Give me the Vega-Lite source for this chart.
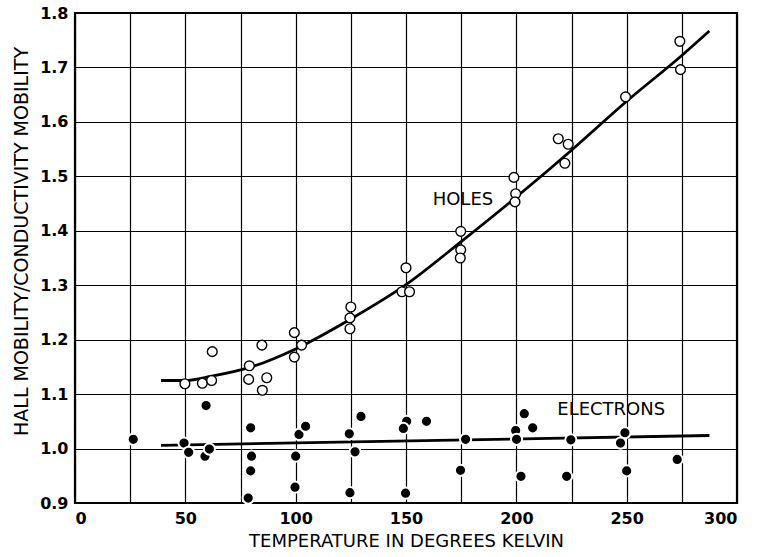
{
  "$schema": "https://vega.github.io/schema/vega-lite/v6.json",
  "autosize": {"type": "none"},
  "width": 662,
  "height": 490,
  "padding": {"left": 75, "top": 13, "right": 20, "bottom": 54},
  "background": "white",
  "config": {
    "view": {"stroke": "black", "strokeWidth": 2.2},
    "font": "DejaVu Sans",
    "axis": {
      "domain": false,
      "ticks": false,
      "grid": true,
      "gridColor": "black",
      "gridOpacity": 1,
      "gridWidth": 1.2,
      "labelColor": "black",
      "labelFont": "DejaVu Sans",
      "labelFontSize": 16,
      "labelFontWeight": "bold",
      "titleColor": "black",
      "titleFont": "DejaVu Sans",
      "titleFontSize": 18,
      "titleFontWeight": "normal"
    }
  },
  "datasets": {
    "holes": [
      {"T": 49.8, "ratio": 1.119}, {"T": 57.7, "ratio": 1.12}, {"T": 61.9, "ratio": 1.125},
      {"T": 62.2, "ratio": 1.178}, {"T": 79.0, "ratio": 1.152}, {"T": 78.7, "ratio": 1.127},
      {"T": 84.7, "ratio": 1.19}, {"T": 86.9, "ratio": 1.13}, {"T": 84.9, "ratio": 1.107},
      {"T": 99.4, "ratio": 1.213}, {"T": 99.4, "ratio": 1.168}, {"T": 102.7, "ratio": 1.19},
      {"T": 125.0, "ratio": 1.26}, {"T": 124.6, "ratio": 1.24}, {"T": 124.6, "ratio": 1.22},
      {"T": 150.0, "ratio": 1.332}, {"T": 148.2, "ratio": 1.288}, {"T": 151.6, "ratio": 1.288},
      {"T": 174.8, "ratio": 1.399}, {"T": 174.8, "ratio": 1.365}, {"T": 174.6, "ratio": 1.35},
      {"T": 198.9, "ratio": 1.498}, {"T": 199.7, "ratio": 1.468}, {"T": 199.4, "ratio": 1.453},
      {"T": 219.0, "ratio": 1.569}, {"T": 223.5, "ratio": 1.559}, {"T": 222.0, "ratio": 1.524},
      {"T": 249.5, "ratio": 1.646}, {"T": 274.1, "ratio": 1.748}, {"T": 274.4, "ratio": 1.696}
    ],
    "electrons": [
      {"T": 26.4, "ratio": 1.017}, {"T": 49.4, "ratio": 1.01}, {"T": 51.5, "ratio": 0.993},
      {"T": 59.4, "ratio": 1.079}, {"T": 58.9, "ratio": 0.986}, {"T": 60.9, "ratio": 0.999},
      {"T": 79.6, "ratio": 1.038}, {"T": 80.0, "ratio": 0.986}, {"T": 79.6, "ratio": 0.959},
      {"T": 78.5, "ratio": 0.909}, {"T": 100.0, "ratio": 0.986}, {"T": 99.7, "ratio": 0.929},
      {"T": 101.5, "ratio": 1.026}, {"T": 104.5, "ratio": 1.041}, {"T": 124.3, "ratio": 1.027},
      {"T": 126.9, "ratio": 0.994}, {"T": 124.6, "ratio": 0.919}, {"T": 129.6, "ratio": 1.059},
      {"T": 150.3, "ratio": 1.05}, {"T": 148.8, "ratio": 1.037}, {"T": 159.3, "ratio": 1.05},
      {"T": 149.8, "ratio": 0.918}, {"T": 177.0, "ratio": 1.017}, {"T": 174.7, "ratio": 0.96},
      {"T": 199.7, "ratio": 1.033}, {"T": 200.1, "ratio": 1.017}, {"T": 203.6, "ratio": 1.064},
      {"T": 207.4, "ratio": 1.038}, {"T": 202.1, "ratio": 0.949}, {"T": 222.8, "ratio": 0.949},
      {"T": 224.7, "ratio": 1.016}, {"T": 249.2, "ratio": 1.029}, {"T": 247.2, "ratio": 1.01},
      {"T": 250.0, "ratio": 0.959}, {"T": 272.9, "ratio": 0.98}
    ],
    "curves": [
      {"series": "holes", "T": 39, "ratio": 1.125},
      {"series": "holes", "T": 50, "ratio": 1.125},
      {"series": "holes", "T": 62, "ratio": 1.133},
      {"series": "holes", "T": 80, "ratio": 1.15},
      {"series": "holes", "T": 100, "ratio": 1.183},
      {"series": "holes", "T": 125, "ratio": 1.238},
      {"series": "holes", "T": 150, "ratio": 1.301},
      {"series": "holes", "T": 175, "ratio": 1.38},
      {"series": "holes", "T": 200, "ratio": 1.462},
      {"series": "holes", "T": 225, "ratio": 1.548},
      {"series": "holes", "T": 250, "ratio": 1.638},
      {"series": "holes", "T": 275, "ratio": 1.722},
      {"series": "holes", "T": 287.5, "ratio": 1.767},
      {"series": "electrons", "T": 39, "ratio": 1.006},
      {"series": "electrons", "T": 287.5, "ratio": 1.024}
    ],
    "labels": [
      {"text": "HOLES", "T": 175.8, "ratio": 1.456},
      {"text": "ELECTRONS", "T": 243, "ratio": 1.07}
    ]
  },
  "encoding": {
    "x": {
      "field": "T", "type": "quantitative",
      "scale": {"domain": [0, 300], "nice": false, "zero": false},
      "axis": {
        "title": "TEMPERATURE IN DEGREES KELVIN",
        "values": [0, 25, 50, 75, 100, 125, 150, 175, 200, 225, 250, 275, 300],
        "labelExpr": "datum.value % 50 == 0 ? datum.label : ''",
        "labelPadding": 7,
        "titlePadding": 6
      }
    },
    "y": {
      "field": "ratio", "type": "quantitative",
      "scale": {"domain": [0.9, 1.8], "nice": false, "zero": false},
      "axis": {
        "title": "HALL MOBILITY/CONDUCTIVITY MOBILITY",
        "values": [0.9, 1.0, 1.1, 1.2, 1.3, 1.4, 1.5, 1.6, 1.7, 1.8],
        "format": ".1f",
        "labelPadding": 7,
        "titlePadding": 8,
        "titleFontSize": 19,
        "titleY": 228
      }
    }
  },
  "layer": [
    {
      "data": {"name": "curves"},
      "mark": {"type": "line", "color": "black", "strokeWidth": 2.8, "interpolate": "monotone"},
      "encoding": {"detail": {"field": "series"}}
    },
    {
      "data": {"name": "holes"},
      "mark": {"type": "circle", "fill": "white", "fillOpacity": 1, "stroke": "black", "strokeWidth": 1.4, "size": 95, "opacity": 1}
    },
    {
      "data": {"name": "electrons"},
      "mark": {"type": "circle", "fill": "black", "fillOpacity": 1, "stroke": "white", "strokeWidth": 2, "size": 125, "opacity": 1}
    },
    {
      "data": {"name": "labels"},
      "mark": {"type": "text", "font": "DejaVu Sans", "fontSize": 18, "color": "black", "align": "center", "baseline": "middle"},
      "encoding": {"text": {"field": "text"}}
    }
  ]
}
